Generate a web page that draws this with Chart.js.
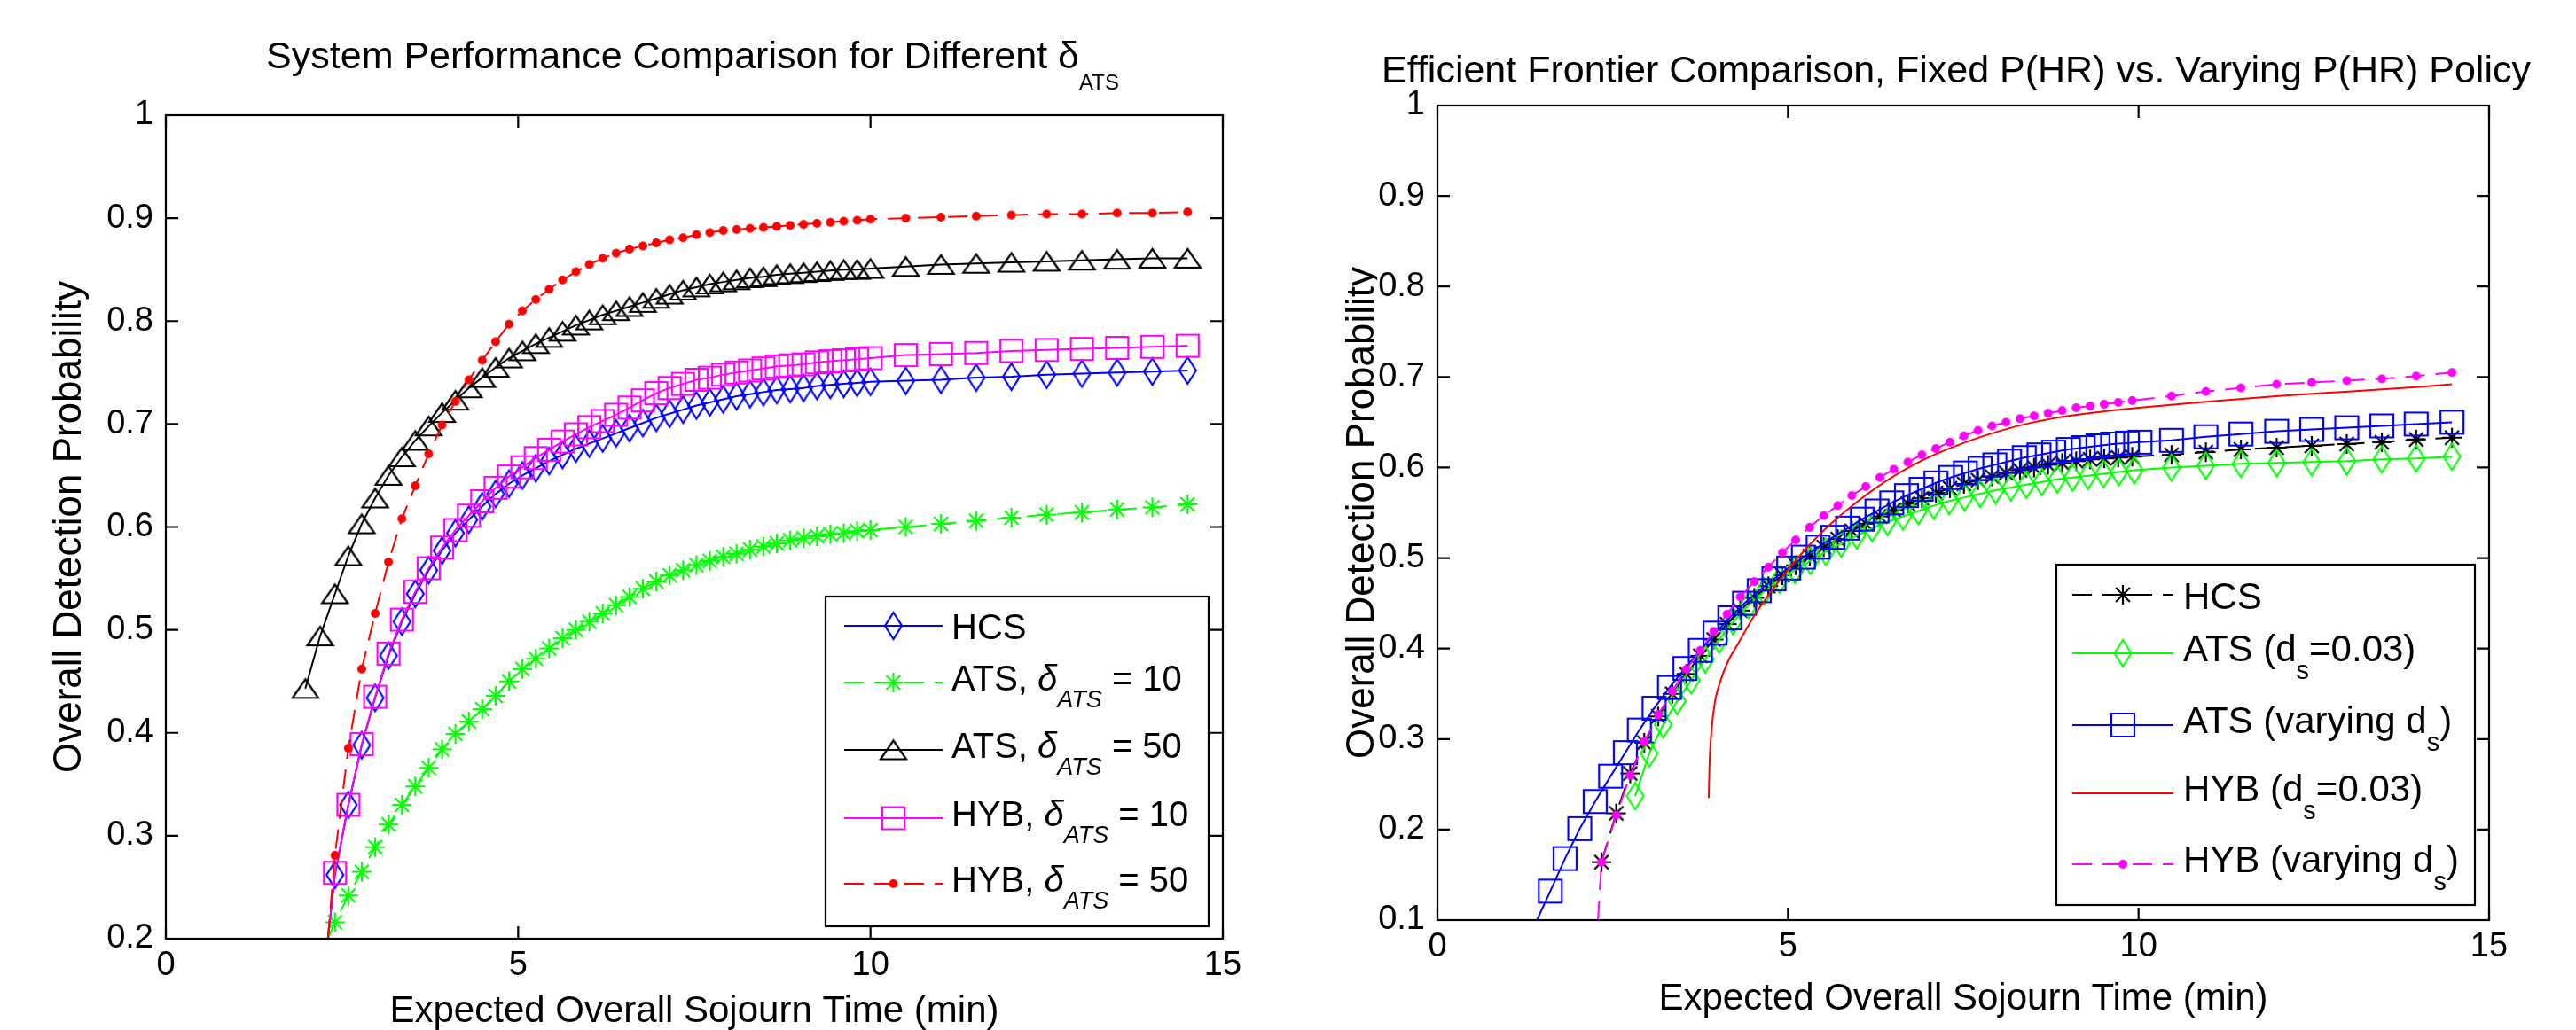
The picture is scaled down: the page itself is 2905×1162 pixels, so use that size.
<!DOCTYPE html>
<html>
<head>
<meta charset="utf-8">
<script src="https://cdn.jsdelivr.net/npm/chart.js@4.4.1/dist/chart.umd.min.js"></script>
<style>
  html, body { margin: 0; padding: 0; background: #fff; }
  body { width: 2905px; height: 1162px; position: relative; overflow: hidden; }
  canvas { position: absolute; top: 0; }
  #leftChart { left: 0; }
  #rightChart { left: 1450px; }
</style>
</head>
<body>
<canvas id="leftChart" width="1450" height="1162"></canvas>
<canvas id="rightChart" width="1455" height="1162"></canvas>
<script>
// Left panel: sojourn time (min) shared by the five policies
const leftTime = [1.98, 2.19, 2.30, 2.40, 2.59, 2.78, 2.97, 3.16, 3.35, 3.54, 3.73, 3.92, 4.11, 4.30, 4.49, 4.68, 4.87,
    5.06, 5.25, 5.44, 5.63, 5.82, 6.01, 6.20, 6.39, 6.58, 6.77, 6.96, 7.15, 7.34, 7.53, 7.72, 7.91, 8.10, 8.29, 8.48,
    8.67, 8.86, 9.05, 9.24, 9.43, 9.62, 9.81, 10.00, 10.50, 11.00, 11.50, 12.00, 12.50, 13.00, 13.50, 14.00, 14.50];

const hcsLeft = [null, null, 0.2, 0.262, 0.330, 0.388, 0.434, 0.475, 0.508, 0.535, 0.558, 0.577, 0.594, 0.607, 0.620,
    0.632, 0.642, 0.650, 0.657, 0.664, 0.670, 0.676, 0.681, 0.686, 0.691, 0.696, 0.701, 0.706, 0.710, 0.714, 0.718,
    0.721, 0.724, 0.727, 0.729, 0.731, 0.733, 0.734, 0.735, 0.737, 0.738, 0.739, 0.740, 0.741,
    0.742, 0.743, 0.745, 0.746, 0.748, 0.749, 0.750, 0.751, 0.752];
const ats10Left = [null, null, 0.2, 0.216, 0.242, 0.265, 0.289, 0.311, 0.330, 0.348, 0.366, 0.384, 0.399, 0.411, 0.423,
    0.436, 0.450, 0.462, 0.472, 0.482, 0.492, 0.500, 0.508, 0.516, 0.524, 0.532, 0.540, 0.547, 0.553, 0.558, 0.563,
    0.567, 0.571, 0.574, 0.578, 0.581, 0.584, 0.587, 0.589, 0.591, 0.593, 0.594, 0.596, 0.597,
    0.600, 0.603, 0.606, 0.609, 0.612, 0.614, 0.617, 0.619, 0.622];
const ats50Left = [0.443, 0.494, null, 0.535, 0.572, 0.603, 0.628, 0.650, 0.668, 0.684, 0.698, 0.711, 0.723, 0.735, 0.745,
    0.755, 0.764, 0.771, 0.778, 0.784, 0.790, 0.796, 0.801, 0.806, 0.810, 0.814, 0.818, 0.822, 0.826, 0.830, 0.833,
    0.836, 0.838, 0.840, 0.842, 0.843, 0.845, 0.846, 0.847, 0.848, 0.849, 0.850, 0.850, 0.851,
    0.853, 0.855, 0.856, 0.857, 0.858, 0.859, 0.860, 0.861, 0.861];
const hyb10Left = [null, null, 0.2, 0.264, 0.330, 0.389, 0.435, 0.477, 0.510, 0.537, 0.560, 0.580, 0.597, 0.611, 0.625,
    0.638, 0.649, 0.658, 0.667, 0.675, 0.683, 0.690, 0.697, 0.703, 0.709, 0.716, 0.723, 0.730, 0.735, 0.739, 0.743,
    0.745, 0.748, 0.750, 0.752, 0.754, 0.756, 0.757, 0.758, 0.760, 0.761, 0.762, 0.763, 0.764,
    0.767, 0.768, 0.769, 0.771, 0.772, 0.773, 0.774, 0.775, 0.776];
const hyb50Left = [null, null, 0.2, 0.281, 0.385, 0.462, 0.516, 0.566, 0.608, 0.640, 0.671, 0.699, 0.722, 0.743, 0.762,
    0.780, 0.797, 0.810, 0.821, 0.831, 0.840, 0.848, 0.855, 0.861, 0.866, 0.870, 0.873, 0.876, 0.879, 0.881, 0.884,
    0.886, 0.888, 0.889, 0.890, 0.891, 0.892, 0.893, 0.894, 0.895, 0.896, 0.897, 0.898, 0.899,
    0.900, 0.901, 0.902, 0.903, 0.904, 0.904, 0.905, 0.905, 0.906];

// Right panel: each policy has its own time points
const hybVarTime = [2.29, 2.34, 2.55, 2.75, 2.95, 3.15, 3.35, 3.55, 3.75, 3.94, 4.13, 4.32, 4.52, 4.72, 4.92, 5.11, 5.31,
    5.51, 5.71, 5.91, 6.11, 6.31, 6.51, 6.71, 6.91, 7.11, 7.31, 7.51, 7.71, 7.91, 8.11, 8.31, 8.51, 8.71, 8.91, 9.11,
    9.31, 9.51, 9.71, 9.91, 10.47, 10.96, 11.46, 11.97, 12.47, 12.97, 13.47, 13.96, 14.47];
const hcsRight = [null, 0.164, 0.218, 0.262, 0.296, 0.325, 0.350, 0.372, 0.392, 0.410, 0.427, 0.442, 0.456, 0.469, 0.481,
    0.492, 0.502, 0.512, 0.521, 0.530, 0.538, 0.546, 0.553, 0.560, 0.566, 0.572, 0.577, 0.582, 0.586, 0.590, 0.594,
    0.597, 0.600, 0.603, 0.605, 0.607, 0.609, 0.610, 0.611, 0.612,
    0.614, 0.617, 0.620, 0.622, 0.624, 0.626, 0.628, 0.631, 0.633];
const hybVarRight = [0.1, 0.164, 0.216, 0.260, 0.297, 0.327, 0.353, 0.377, 0.398, 0.419, 0.438, 0.457, 0.474, 0.490, 0.506,
    0.520, 0.534, 0.547, 0.558, 0.569, 0.579, 0.589, 0.598, 0.606, 0.614, 0.621, 0.628, 0.635, 0.641, 0.646, 0.650,
    0.654, 0.657, 0.660, 0.663, 0.666, 0.668, 0.670, 0.672, 0.674,
    0.679, 0.684, 0.688, 0.692, 0.694, 0.696, 0.698, 0.701, 0.705];

const atsVarTime = [1.42, 1.61, 1.82, 2.03, 2.25, 2.47, 2.68, 2.88, 3.09, 3.31, 3.53, 3.75, 3.96, 4.17, 4.38, 4.59, 4.80,
    5.01, 5.22, 5.43, 5.64, 5.85, 6.06, 6.27, 6.48, 6.69, 6.90, 7.11, 7.32, 7.53, 7.74, 7.95, 8.16, 8.37, 8.58, 8.79,
    9.00, 9.21, 9.42, 9.63, 9.84, 10.02, 10.47, 10.96, 11.46, 11.97, 12.47, 12.97, 13.47, 13.96, 14.47];
const atsVarRight = [0.1, 0.132, 0.168, 0.201, 0.231, 0.259, 0.285, 0.310, 0.334, 0.357, 0.378, 0.398, 0.417, 0.434, 0.450,
    0.464, 0.477, 0.489, 0.501, 0.512, 0.523, 0.533, 0.543, 0.552, 0.561, 0.569, 0.576, 0.583, 0.589, 0.594, 0.599,
    0.603, 0.607, 0.611, 0.614, 0.617, 0.620, 0.622, 0.624, 0.626, 0.627, 0.628,
    0.630, 0.634, 0.637, 0.640, 0.642, 0.644, 0.646, 0.648, 0.650];

const atsFixTime = [2.82, 3.02, 3.22, 3.42, 3.62, 3.82, 4.02, 4.22, 4.44, 4.66, 4.88, 5.10, 5.32, 5.54, 5.76, 5.98, 6.20,
    6.42, 6.64, 6.86, 7.08, 7.30, 7.52, 7.74, 7.96, 8.18, 8.40, 8.62, 8.84, 9.06, 9.28, 9.50, 9.72, 9.94,
    10.47, 10.96, 11.46, 11.97, 12.47, 12.97, 13.47, 13.96, 14.47];
const atsFixRight = [0.237, 0.284, 0.316, 0.342, 0.365, 0.388, 0.410, 0.430, 0.448, 0.463, 0.476, 0.487, 0.497, 0.507,
    0.516, 0.525, 0.533, 0.540, 0.546, 0.552, 0.558, 0.563, 0.567, 0.571, 0.575, 0.578, 0.581, 0.584, 0.587, 0.589,
    0.591, 0.593, 0.595, 0.597,
    0.600, 0.602, 0.604, 0.605, 0.606, 0.607, 0.609, 0.610, 0.612];

const hybFixTime = [3.87, 3.88, 3.91, 3.96, 4.04, 4.14, 4.27, 4.41, 4.55, 4.75, 5.0, 5.3, 5.6, 6.0, 6.5, 7.0, 7.5, 8.0,
    8.5, 9.0, 9.5, 10.0, 11.0, 12.0, 13.0, 14.0, 14.47];
const hybFixRight = [0.235, 0.27, 0.31, 0.342, 0.365, 0.385, 0.403, 0.422, 0.440, 0.462, 0.487, 0.514, 0.537, 0.563,
    0.590, 0.611, 0.627, 0.640, 0.650, 0.657, 0.662, 0.666, 0.673, 0.679, 0.684, 0.689, 0.692];

// Tick labels
const xTicks = [0, 5, 10, 15];
const yTicksLeft = [0.2, 0.3, 0.4, 0.5, 0.6, 0.7, 0.8, 0.9, 1];
const yTicksRight = [0.1, 0.2, 0.3, 0.4, 0.5, 0.6, 0.7, 0.8, 0.9, 1];

// Text pieces: [text, mode] where mode has 'i' (italic) and/or 's' (subscript)
const leftTitle = [['System Performance Comparison for Different δ', ''], ['ATS', 's']];
const rightTitle = [['Efficient Frontier Comparison, Fixed P(HR) vs. Varying P(HR) Policy', '']];
const leftLabels = [
    [['HCS', '']],
    [['ATS, ', ''], ['δ', 'i'], ['ATS', 'si'], [' = 10', '']],
    [['ATS, ', ''], ['δ', 'i'], ['ATS', 'si'], [' = 50', '']],
    [['HYB, ', ''], ['δ', 'i'], ['ATS', 'si'], [' = 10', '']],
    [['HYB, ', ''], ['δ', 'i'], ['ATS', 'si'], [' = 50', '']]
];
const rightLabels = [
    [['HCS', '']],
    [['ATS (d', ''], ['s', 's'], ['=0.03)', '']],
    [['ATS (varying d', ''], ['s', 's'], [')', '']],
    [['HYB (d', ''], ['s', 's'], ['=0.03)', '']],
    [['HYB (varying d', ''], ['s', 's'], [')', '']]
];

const FONT = '"Liberation Sans", Arial, Helvetica, sans-serif';
const DASH = [22, 12];

Chart.defaults.font.family = FONT;
Chart.defaults.color = '#000';

// MATLAB-like marker glyphs (unfilled outlines, '.' is a small filled dot)
function makeMarker(kind, color, w, h) {
    const c = document.createElement('canvas');
    c.width = Math.ceil(w + 6);
    c.height = Math.ceil(h + 6);
    const g = c.getContext('2d');
    g.translate(c.width / 2, c.height / 2);
    g.strokeStyle = color;
    g.fillStyle = color;
    g.lineWidth = 2.2;
    const hw = w / 2, hh = h / 2;
    g.beginPath();
    if (kind === 'diamond') {
        g.moveTo(0, -hh); g.lineTo(hw, 0); g.lineTo(0, hh); g.lineTo(-hw, 0); g.closePath(); g.stroke();
    } else if (kind === 'square') {
        g.rect(-hw, -hh, w, h); g.stroke();
    } else if (kind === 'triangle') {
        g.moveTo(0, -hh); g.lineTo(hw, hh); g.lineTo(-hw, hh); g.closePath(); g.stroke();
    } else if (kind === 'star') {
        const d = hw * 0.72;
        g.moveTo(-hw, 0); g.lineTo(hw, 0);
        g.moveTo(0, -hh); g.lineTo(0, hh);
        g.moveTo(-d, -d); g.lineTo(d, d);
        g.moveTo(-d, d); g.lineTo(d, -d);
        g.stroke();
    } else if (kind === 'dot') {
        g.arc(0, 0, hw, 0, Math.PI * 2); g.fill();
    }
    return c;
}

function series(xs, ys, color, dash, marker, yMin, smooth) {
    const data = [];
    xs.forEach((x, i) => {
        if (ys[i] !== null && ys[i] !== undefined) data.push({ x: x, y: ys[i] });
    });
    return {
        data: data,
        borderColor: color,
        borderWidth: 2,
        borderDash: dash,
        fill: false,
        tension: 0,
        cubicInterpolationMode: smooth ? 'monotone' : 'default',
        pointStyle: marker || 'circle',
        // points sitting on the lower axis only anchor the line
        pointRadius: (c) => (!marker || (c.raw && c.raw.y <= yMin) ? 0 : 12),
        pointHoverRadius: 0,
        _marker: marker,
        _dash: dash
    };
}

function drawRich(ctx, parts, x, y, size, align, subScale, subShift) {
    const fontOf = (m) => (m.includes('i') ? 'italic ' : '') +
        Math.round(m.includes('s') ? size * subScale : size) + 'px ' + FONT;
    let total = 0;
    parts.forEach(([t, m]) => { ctx.font = fontOf(m); total += ctx.measureText(t).width; });
    let cx = align === 'center' ? x - total / 2 : x;
    ctx.textAlign = 'left';
    ctx.textBaseline = 'alphabetic';
    ctx.fillStyle = '#000';
    parts.forEach(([t, m]) => {
        ctx.font = fontOf(m);
        ctx.fillText(t, cx, m.includes('s') ? y + size * subShift : y);
        cx += ctx.measureText(t).width;
    });
}

function buildPanel(canvasId, p) {
    const canvas = document.getElementById(canvasId);
    const datasets = p.datasets.map((d, i, all) => Object.assign(d, { order: all.length - 1 - i }));

    // box round the axes with inward ticks on all four sides
    const framePlugin = {
        id: 'frame',
        afterDatasetsDraw(chart) {
            const { ctx, chartArea: a, scales } = chart;
            ctx.save();
            ctx.strokeStyle = '#000';
            ctx.lineWidth = 2.2;
            ctx.setLineDash([]);
            ctx.strokeRect(a.left, a.top, a.right - a.left, a.bottom - a.top);
            ctx.beginPath();
            scales.x.ticks.forEach((t) => {
                const px = scales.x.getPixelForValue(t.value);
                ctx.moveTo(px, a.bottom); ctx.lineTo(px, a.bottom - 14);
                ctx.moveTo(px, a.top); ctx.lineTo(px, a.top + 14);
            });
            scales.y.ticks.forEach((t) => {
                const py = scales.y.getPixelForValue(t.value);
                ctx.moveTo(a.left, py); ctx.lineTo(a.left + 14, py);
                ctx.moveTo(a.right, py); ctx.lineTo(a.right - 14, py);
            });
            ctx.stroke();
            ctx.restore();
        }
    };

    const textPlugin = {
        id: 'texts',
        afterDraw(chart) {
            const ctx = chart.ctx;
            ctx.save();
            drawRich(ctx, p.title, p.titleX, p.titleY, 43, 'center', 0.56, 0.56);

            // legend
            const L = p.legend;
            ctx.fillStyle = '#fff';
            ctx.fillRect(L.x, L.y, L.w, L.h);
            ctx.strokeStyle = '#000';
            ctx.lineWidth = 2.2;
            ctx.setLineDash([]);
            ctx.strokeRect(L.x, L.y, L.w, L.h);
            datasets.forEach((d, i) => {
                const ry = L.rows[i];
                ctx.strokeStyle = d.borderColor;
                ctx.lineWidth = 2;
                ctx.setLineDash(d._dash);
                ctx.beginPath();
                ctx.moveTo(L.x0, ry);
                ctx.lineTo(L.x1, ry);
                ctx.stroke();
                ctx.setLineDash([]);
                if (d._marker) {
                    const m = d._marker;
                    ctx.drawImage(m, (L.x0 + L.x1) / 2 - m.width / 2, ry - m.height / 2);
                }
                const parts = p.labels[i];
                const hasSub = parts.some(([, m]) => m.includes('s'));
                drawRich(ctx, parts, L.tx, ry + L.size * (hasSub ? 0.22 : 0.37), L.size, 'left', 0.68, 0.47);
            });
            ctx.restore();
        }
    };

    return new Chart(canvas, {
        type: 'line',
        data: { datasets: datasets },
        options: {
            responsive: false,
            animation: false,
            devicePixelRatio: 1,
            events: [],
            layout: { padding: { top: p.area.top, right: canvas.width - p.area.right, bottom: 0, left: 0 } },
            plugins: { legend: { display: false }, tooltip: { enabled: false } },
            scales: {
                x: {
                    type: 'linear',
                    min: 0,
                    max: 15,
                    afterBuildTicks: (s) => { s.ticks = xTicks.map((v) => ({ value: v })); },
                    afterFit: (s) => { s.height = canvas.height - p.area.bottom; },
                    grid: { display: false, drawTicks: false },
                    border: { display: false },
                    ticks: { padding: 8, font: { size: 38 }, color: '#000', maxRotation: 0, callback: (v) => String(v) },
                    title: {
                        display: true,
                        text: 'Expected Overall Sojourn Time (min)',
                        font: { size: 42, lineHeight: 1 },
                        color: '#000',
                        padding: { top: 0, bottom: p.xTitlePad }
                    }
                },
                y: {
                    type: 'linear',
                    min: p.yTicks[0],
                    max: 1,
                    afterBuildTicks: (s) => { s.ticks = p.yTicks.map((v) => ({ value: v })); },
                    afterFit: (s) => { s.width = p.area.left; },
                    grid: { display: false, drawTicks: false },
                    border: { display: false },
                    ticks: {
                        padding: 14,
                        font: { size: 38 },
                        color: '#000',
                        callback: (v) => String(v),
                        showLabelBackdrop: true,
                        backdropColor: '#fff',
                        backdropPadding: 1
                    },
                    title: {
                        display: true,
                        text: 'Overall Detection Probability',
                        font: { size: 44, lineHeight: 1.2 },
                        color: '#000',
                        padding: { top: p.yTitlePad, bottom: 0 }
                    }
                }
            }
        },
        plugins: [framePlugin, textPlugin]
    });
}

buildPanel('leftChart', {
    area: { left: 187, right: 1379, top: 130, bottom: 1059 },
    yTicks: yTicksLeft,
    xTitlePad: 0,
    yTitlePad: 52,
    title: leftTitle,
    titleX: 781,
    titleY: 77,
    labels: leftLabels,
    legend: { x: 931, y: 673, w: 432, h: 372, x0: 952, x1: 1063, tx: 1073, size: 40, rows: [706, 770, 846, 923, 997] },
    datasets: [
        series(leftTime, hcsLeft, '#0000ff', [], makeMarker('diamond', '#0000ff', 19, 30), 0.2),
        series(leftTime, ats10Left, '#00ff00', DASH, makeMarker('star', '#00ff00', 22, 22), 0.2),
        series(leftTime, ats50Left, '#000000', [], makeMarker('triangle', '#000000', 29, 21), 0.2),
        series(leftTime, hyb10Left, '#ff00ff', [], makeMarker('square', '#ff00ff', 25, 25), 0.2),
        series(leftTime, hyb50Left, '#ff0000', DASH, makeMarker('dot', '#ff0000', 10, 10), 0.2)
    ]
});

buildPanel('rightChart', {
    area: { left: 171, right: 1357, top: 119, bottom: 1038 },
    yTicks: yTicksRight,
    xTitlePad: 14,
    yTitlePad: 60,
    title: rightTitle,
    titleX: 756,
    titleY: 93,
    labels: rightLabels,
    legend: { x: 869, y: 637, w: 472, h: 384, x0: 887, x1: 1001, tx: 1012, size: 42, rows: [671, 737, 818, 895, 975] },
    datasets: [
        series(hybVarTime, hcsRight, '#000000', DASH, makeMarker('star', '#000000', 22, 22), 0.1),
        series(atsFixTime, atsFixRight, '#00ff00', [], makeMarker('diamond', '#00ff00', 19, 30), 0.1),
        series(atsVarTime, atsVarRight, '#0000ff', [], makeMarker('square', '#0000ff', 26, 26), 0.1),
        series(hybFixTime, hybFixRight, '#ff0000', [], null, 0.1, true),
        series(hybVarTime, hybVarRight, '#ff00ff', DASH, makeMarker('dot', '#ff00ff', 10, 10), 0.1)
    ]
});
</script>
</body>
</html>
